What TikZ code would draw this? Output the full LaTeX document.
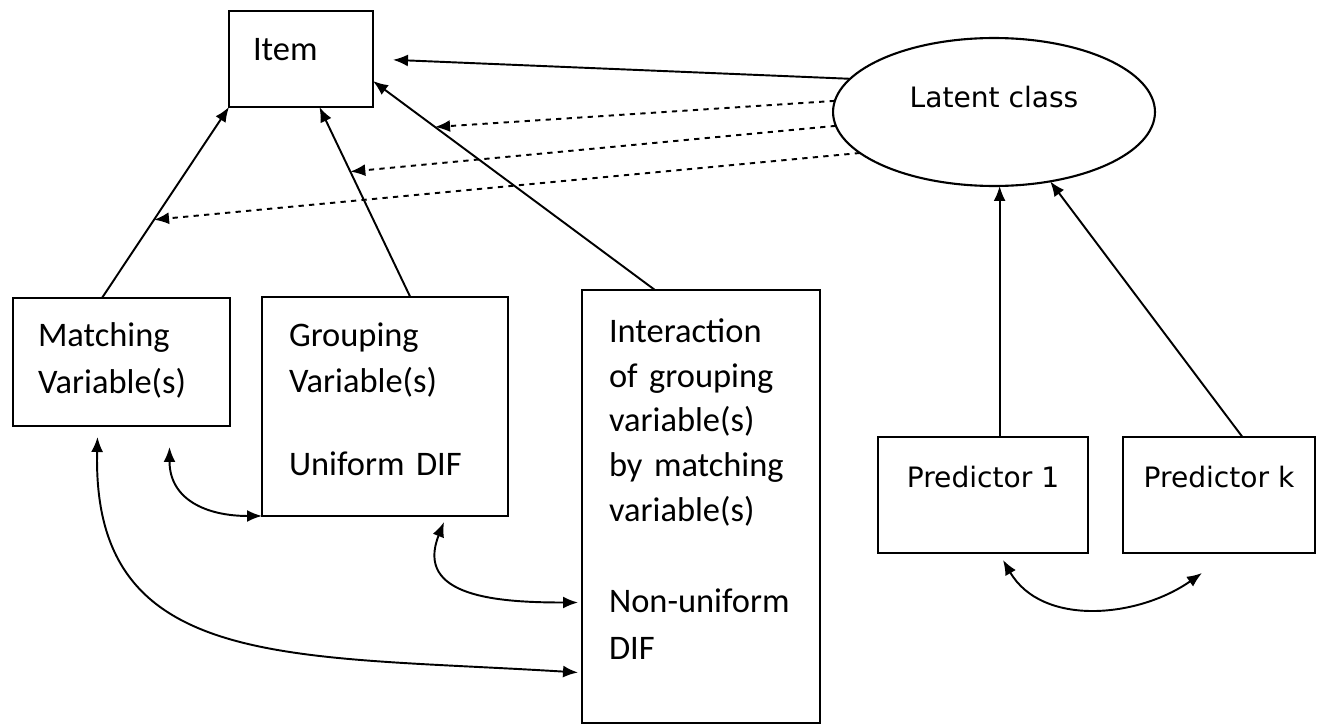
\documentclass[tikz,border=0pt]{standalone}
\usepackage{fontspec}
\setmainfont{Carlito}
\newfontfamily\dejavu{DejaVu Sans}
\usepackage{tikz}
\usetikzlibrary{shapes.geometric,arrows.meta,positioning,calc}

\begin{document}
\begin{tikzpicture}[x=0.02cm, y=-0.02cm,
    box/.style={rectangle, draw, line width=1.6pt, inner ysep=0pt, outer sep=0pt,
                align=left, text height=0pt, font=\fontsize{19.6}{25.6}\selectfont},
    pbox/.style={rectangle, draw, line width=1.5pt, inner sep=0pt, outer sep=0pt,
                 minimum height=2.32cm, text height=0pt, text depth=0.32cm,
                 font=\dejavu\fontsize{16}{19}\selectfont},
    cls/.style={ellipse, draw, line width=1.2pt, inner sep=0pt, outer sep=0pt,
                minimum width=6.44cm, minimum height=2.96cm, text height=0pt, text depth=0.2cm,
                font=\dejavu\fontsize{16}{19}\selectfont},
    arr/.style={-{Latex[length=0.3cm,width=0.24cm]}, line width=1.1pt},
    darr/.style={arr, dashed},
    twoarr/.style={{Latex[length=0.3cm,width=0.24cm]}-{Latex[length=0.3cm,width=0.24cm]}, line width=1.1pt}
]
    \useasboundingbox (0,0) rectangle (1317,723);

    \node[box, minimum width=2.88cm, minimum height=1.92cm, inner xsep=0.48cm, text width=1.92cm,
          text height=0.08cm, text depth=0pt] (item) at (301,59) {Item};
    \node[box, minimum width=4.34cm, minimum height=2.56cm, inner xsep=0.5cm, text width=3.34cm,
          text depth=0.64cm] (match) at (121.5,362) {Matching\\[1.7pt]Variable(s)};
    \node[box, minimum width=4.92cm, minimum height=4.38cm, inner xsep=0.54cm, text width=3.84cm,
          text depth=2.42cm] (group) at (385,406.5) {Grouping\\[1.1pt]Variable(s)\\[21.6pt]Uniform DIF};
    \node[box, minimum width=4.76cm, minimum height=8.66cm, inner xsep=0.54cm, text width=3.68cm,
          text depth=6.58cm] (inter) at (701,506.5)
          {Interaction\\of grouping\\variable(s)\\by matching\\variable(s)\\[26.2pt]Non-uniform\\[1.1pt]DIF};
    \node[cls] (latent) at (994,112) {Latent class};
    \node[pbox, minimum width=4.2cm] (pred1) at (983,495) {Predictor 1};
    \node[pbox, minimum width=3.84cm] (predk) at (1219,495) {Predictor k};

    \draw[arr] (match.107) -- coordinate[pos=0.41] (mm) (item.south west);
    \draw[arr] (group.77) -- coordinate[pos=0.66] (gm) (item.-69);
    \draw[arr] (inter.102) -- coordinate[pos=0.78] (im) (item.-17);
    \draw[arr, shorten >=0.4cm] (latent.167) -- (item.east);
    \draw[darr] (latent.176) -- (im);
    \draw[darr] (latent.185) -- (gm);
    \draw[darr] (latent.197) -- (mm);

    \draw[arr] (pred1.74) -- (pred1.74 |- latent.south);
    \draw[arr] (predk.68) -- (latent.-51);

    \draw[twoarr] ($(pred1.south)+(20,7)$) .. controls +(39,67) and +(-64,45) .. ($(predk.south)+(-17,20)$);
    \draw[twoarr] ($(match.south)+(48,21)$) .. controls +(0,53) and +(-55,0) .. (group.south west);
    \draw[twoarr] ($(group.south)+(59,6)$) .. controls +(-30,75) and +(-80,0) .. ($(inter.west)+(-4,96)$);
    \draw[twoarr] ($(match.south)+(-24,11)$) .. controls +(-6,235) and +(-290,-18) .. ($(inter.west)+(-4,166)$);
\end{tikzpicture}
\end{document}
